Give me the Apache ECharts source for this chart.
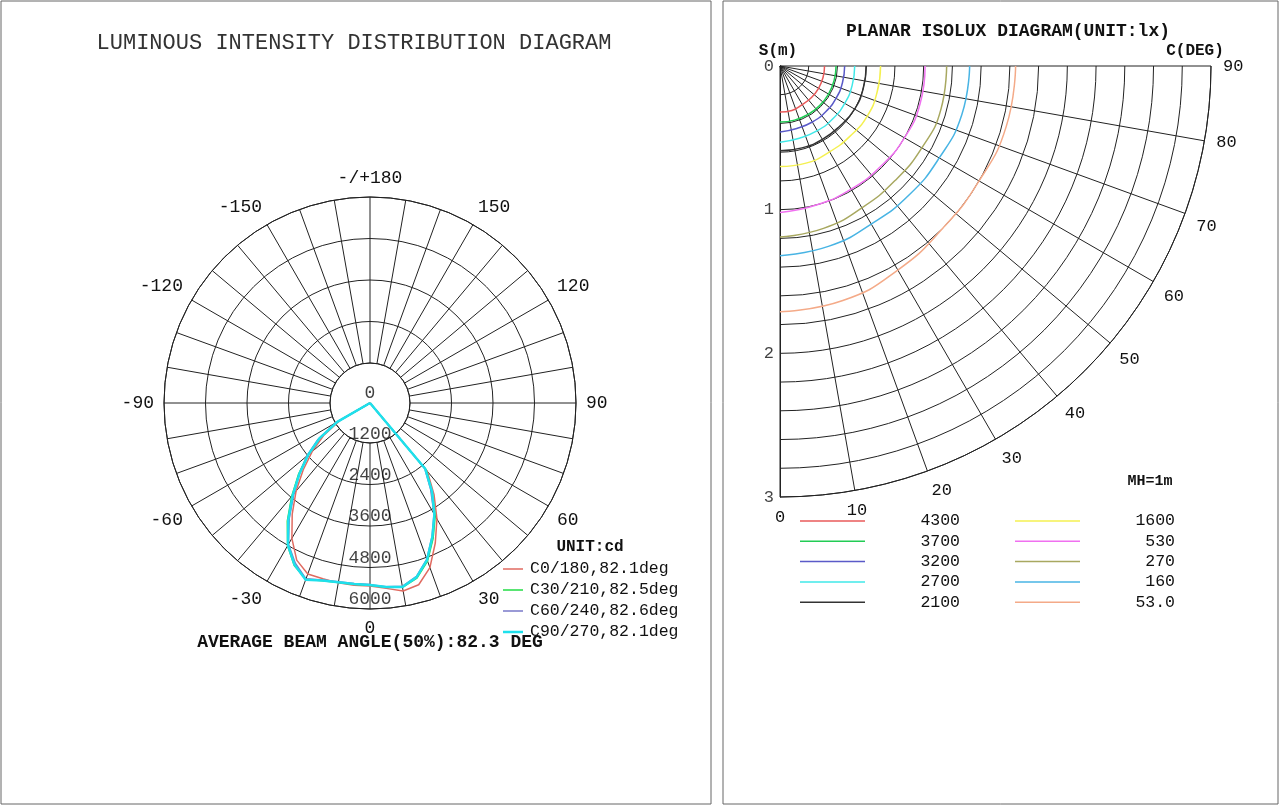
<!DOCTYPE html>
<html><head><meta charset="utf-8">
<script src="https://cdn.jsdelivr.net/npm/echarts@6/dist/echarts.min.js"></script>
<style>html,body{margin:0;padding:0;background:#fff}#c{width:1280px;height:806px}</style>
</head><body><div id="c"></div>
<script>
// ---- Left: luminous intensity distribution ----
const gammaAngles = [-90,-60,-55,-50,-45,-40,-35,-30,-25,-20,-15,-10,-5,0,5,10,15,20,25,30,35,40,45,90];
const c0   = [0,1000,1650,2200,2750,3350,3950,4550,5050,5300,5300,5320,5330,5330,5420,5560,5480,5100,4500,3900,3250,2600,0,0];
const c30  = [0,1100,1800,2380,2950,3550,4200,4800,5220,5460,5360,5310,5300,5310,5390,5450,5280,4900,4350,3800,3150,2550,0,0];
const c60  = [0,1150,1850,2400,2900,3450,4100,4750,5150,5450,5340,5290,5280,5290,5370,5420,5230,4840,4280,3730,3080,2480,0,0];
const c90  = [0,1100,1800,2350,2900,3500,4150,4780,5200,5480,5350,5300,5290,5300,5380,5440,5250,4860,4300,3750,3150,2500,0,0];
const curveNames = ['C0/180,82.1deg','C30/210,82.5deg','C60/240,82.6deg','C90/270,82.1deg'];
const curveColors = ['#e06a60','#22dd44','#7878c8','#1ee0ec'];
const radialTicks = [0,1200,2400,3600,4800,6000];
// ---- Right: planar isolux ----
const sTicks = [0,1,2,3];
const isoAngles = [0,15,30,45,60,75,90];
const isoLevels = ['4300','3700','3200','2700','2100','1600','530','270','160','53.0'];
const isoRadii = [
  [0.32,0.32,0.31,0.31,0.31,0.31,0.31],
  [0.39,0.39,0.39,0.39,0.39,0.39,0.39],
  [0.46,0.45,0.45,0.45,0.45,0.45,0.45],
  [0.53,0.52,0.52,0.52,0.52,0.52,0.52],
  [0.59,0.59,0.59,0.59,0.60,0.60,0.60],
  [0.70,0.70,0.69,0.69,0.70,0.70,0.70],
  [1.02,1.00,0.99,0.99,1.00,1.01,1.01],
  [1.19,1.17,1.14,1.13,1.14,1.16,1.16],
  [1.32,1.30,1.27,1.27,1.28,1.31,1.32],
  [1.71,1.69,1.64,1.60,1.60,1.63,1.64]
];
const isoColors = ['#e85a5a','#22cc55','#5a5ac8','#40e8e8','#333333','#f4f050','#f070f0','#a8a860','#48b4e4','#f4aa88'];

const mono = '"Liberation Mono","DejaVu Sans Mono",monospace';
const chart = echarts.init(document.getElementById('c'));
const series = [];
curveNames.forEach((n,i)=>{
  const d=[c0,c30,c60,c90][i];
  series.push({type:'line',name:n,polarIndex:1,coordinateSystem:'polar',showSymbol:false,
    lineStyle:{color:curveColors[i],width:i===3?2.5:1.5},data:gammaAngles.map((a,k)=>[d[k],a]),z:5,silent:true});
});
series.push({type:'scatter',polarIndex:1,coordinateSystem:'polar',symbolSize:0,
  data:radialTicks.map(v=>[v,0]),label:{show:true,position:'top',distance:1,formatter:p=>String(p.value[0]),
  fontFamily:mono,fontSize:18,color:'#111'},z:6,silent:true});
isoLevels.forEach((n,i)=>{
  series.push({type:'line',polarIndex:2,coordinateSystem:'polar',showSymbol:false,smooth:true,
    lineStyle:{color:isoColors[i],width:1.5},data:isoAngles.map((a,k)=>[isoRadii[i][k],a]),z:5,silent:true});
});
series.push({type:'scatter',polarIndex:2,coordinateSystem:'polar',symbolSize:0,
  data:sTicks.map(v=>[v,0]),label:{show:true,position:'left',distance:6,formatter:p=>String(p.value[0]),
  fontFamily:mono,fontSize:17,color:'#111'},z:6,silent:true});

const g = [
  {type:'rect',shape:{x:1,y:1,width:710,height:803},style:{fill:'none',stroke:'#666',lineWidth:1}},
  {type:'rect',shape:{x:723,y:1,width:555,height:803},style:{fill:'none',stroke:'#666',lineWidth:1}},
  {type:'text',x:354,y:43,style:{text:'LUMINOUS INTENSITY DISTRIBUTION DIAGRAM',font:'22px '+mono,fill:'#333',align:'center',verticalAlign:'middle'}},
  {type:'text',x:370,y:642,style:{text:'AVERAGE BEAM ANGLE(50%):82.3 DEG',font:'bold 18px '+mono,fill:'#111',align:'center',verticalAlign:'middle'}},
  {type:'text',x:590,y:547,style:{text:'UNIT:cd',font:'bold 16px '+mono,fill:'#111',align:'center',verticalAlign:'middle'}},
  {type:'text',x:1008,y:31,style:{text:'PLANAR ISOLUX DIAGRAM(UNIT:lx)',font:'bold 18px '+mono,fill:'#111',align:'center',verticalAlign:'middle'}},
  {type:'text',x:778,y:51,style:{text:'S(m)',font:'bold 16px '+mono,fill:'#111',align:'center',verticalAlign:'middle'}},
  {type:'text',x:1195,y:51,style:{text:'C(DEG)',font:'bold 16px '+mono,fill:'#111',align:'center',verticalAlign:'middle'}},
  {type:'text',x:1150,y:481,style:{text:'MH=1m',font:'bold 15px '+mono,fill:'#111',align:'center',verticalAlign:'middle'}}
];
curveNames.forEach((n,i)=>{
  const y=569+i*21;
  g.push({type:'line',shape:{x1:503,y1:y,x2:523,y2:y},style:{stroke:curveColors[i],lineWidth:i===3?2.5:1.5}});
  g.push({type:'text',x:530,y:y,style:{text:n,font:'16.5px '+mono,fill:'#111',verticalAlign:'middle'}});
});
isoLevels.forEach((n,i)=>{
  const col=i<5?0:1, row=i%5, y=521+row*20.3;
  const x0=col?1015:800;
  g.push({type:'line',shape:{x1:x0,y1:y,x2:x0+65,y2:y},style:{stroke:isoColors[i],lineWidth:1.5}});
  g.push({type:'text',x:col?1175:960,y:y,style:{text:n,font:'16.5px '+mono,fill:'#111',align:'right',verticalAlign:'middle'}});
});

chart.setOption({
  animation:false,
  graphic:g,
  polar:[
    {center:[370,403],radius:[40,206]},
    {center:[370,403],radius:[0,206]},
    {center:[780,66],radius:[0,431]}
  ],
  angleAxis:[
    {polarIndex:0,type:'value',min:0,max:360,interval:10,startAngle:-90,clockwise:false,
     axisLine:{lineStyle:{color:'#222',width:1}},axisTick:{show:false},
     splitLine:{show:true,lineStyle:{color:'#222',width:1}},
     axisLabel:{margin:10,fontFamily:mono,fontSize:18,color:'#111',
       formatter:v=>{if(v%30!==0||v===360)return '';if(v===180)return '-/+180';return String(v>180?v-360:v);}}},
    {polarIndex:1,type:'value',min:-180,max:180,startAngle:90,clockwise:false,show:false},
    {polarIndex:2,type:'value',min:0,max:90,interval:10,startAngle:-90,endAngle:0,clockwise:false,
     axisLine:{lineStyle:{color:'#222',width:1}},axisTick:{show:false},
     splitLine:{show:true,lineStyle:{color:'#222',width:1}},
     axisLabel:{margin:12,fontFamily:mono,fontSize:17,color:'#111',formatter:v=>v%10===0?String(v):''}}
  ],
  radiusAxis:[
    {polarIndex:0,type:'value',min:1200,max:6000,interval:1200,axisLine:{show:false},axisTick:{show:false},axisLabel:{show:false},
     splitLine:{show:true,lineStyle:{color:'#222',width:1}}},
    {polarIndex:1,type:'value',min:0,max:6000,show:false},
    {polarIndex:2,type:'value',min:0,max:3,interval:0.2,axisLine:{lineStyle:{color:'#222'}},axisTick:{show:false},
     axisLabel:{show:false},
     splitLine:{show:true,lineStyle:{color:'#222',width:1}}}
  ],
  series:series
});
</script></body></html>
